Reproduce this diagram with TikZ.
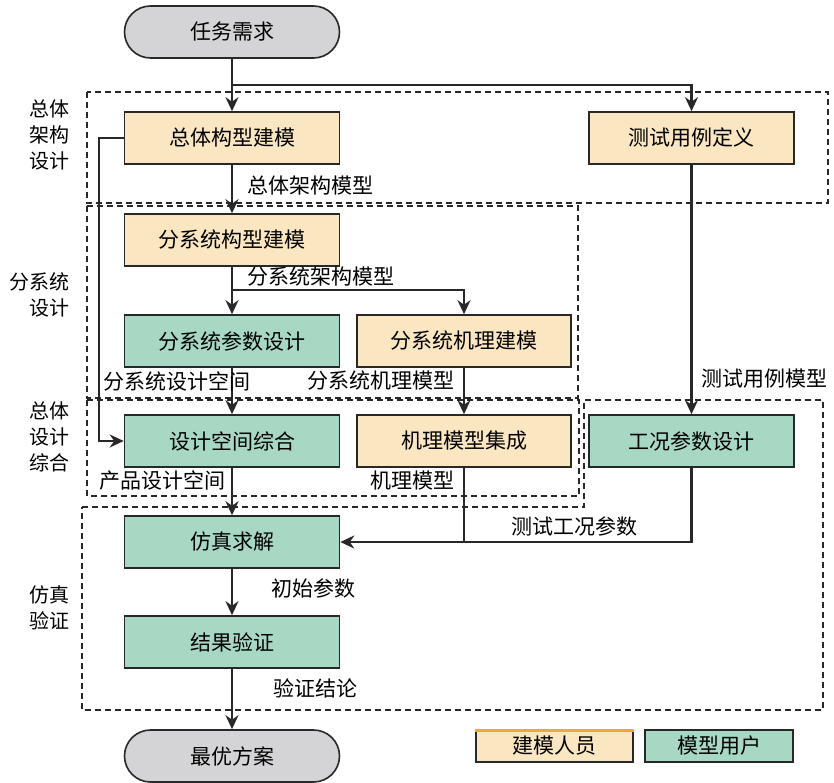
\documentclass[tikz,border=0pt]{standalone}
\usepackage{fontspec}
\setmainfont{Noto Sans CJK SC}
\usetikzlibrary{arrows.meta,calc}
\definecolor{jmfill}{RGB}{250,230,192}
\definecolor{yhfill}{RGB}{167,216,196}
\definecolor{termfill}{RGB}{212,212,214}
\definecolor{edge}{RGB}{40,40,40}
\definecolor{legendtop}{RGB}{240,168,60}

\begin{document}
\begin{tikzpicture}[x=1pt,y=-1pt,line width=2.4pt,draw=edge,
           every node/.style={inner sep=2pt,font=\fontsize{21}{26}\selectfont},
           >={Stealth[length=14pt,width=13pt]},
           jm/.style={draw=edge,line width=1.6pt,fill=jmfill,minimum width=215,minimum height=52},
           yh/.style={draw=edge,line width=1.6pt,fill=yhfill,minimum width=215,minimum height=52},
           term/.style={draw=edge,line width=1.6pt,fill=termfill,rounded corners=26pt,minimum width=215,minimum height=52},
           lab/.style={font=\fontsize{21}{24}\selectfont},
           side/.style={font=\fontsize{20}{26}\selectfont,align=right,anchor=east},
           dashbox/.style={line width=1.2pt,dash pattern=on 6pt off 4pt}]
  \useasboundingbox (0,0) rectangle (834,783);
  \draw[dashbox](87,92)rectangle(828,203);
  \draw[dashbox](87,206)rectangle(578,398);
  \draw[dashbox](87,400)rectangle(579,496);
  \draw[dashbox](82,507)--(584,507)--(584,400)--(823,400)--(823,710)--(82,710)--cycle;
  \node[side](s1)at(73,135){总体\\架构\\设计};
  \node[side](s2)at(73,295){分系统\\设计};
  \node[side](s3)at(73,437){总体\\设计\\综合};
  \node[side](s4)at(73,608){仿真\\验证};
  \node[term](rw)at(232,32){任务需求};
  \node[jm](ztgx)at(232,138){总体构型建模};
  \node[jm,minimum width=205](csyl)at(691.5,138){测试用例定义};
  \node[jm](fxgx)at(232,240){分系统构型建模};
  \node[yh](fxcs)at(232,341){分系统参数设计};
  \node[jm,minimum width=214](fxjl)at(464,341){分系统机理建模};
  \node[yh](sjzh)at(232,441){设计空间综合};
  \node[jm,minimum width=214](jljc)at(464,441){机理模型集成};
  \node[yh,minimum width=205](gkcs)at(691.5,441){工况参数设计};
  \node[yh](fzqj)at(232,542){仿真求解};
  \node[yh](jgyz)at(232,642){结果验证};
  \node[term](zyfa)at(232,756){最优方案};
  \coordinate(b1)at(232,85);
  \coordinate(b2)at(232,290);
  \draw[->](rw)--(ztgx);
  \draw[->](b1)-|(csyl);
  \draw[->](ztgx)--(fxgx);
  \draw[->](fxgx)--(fxcs);
  \draw[->](b2)-|(fxjl);
  \draw[->](ztgx.west)-|([xshift=-25pt]sjzh.west)--(sjzh.west);
  \draw[->](fxcs)--(sjzh);
  \draw[->](fxjl)--(jljc);
  \draw[->](csyl)--(gkcs);
  \draw[->](sjzh)--(fzqj);
  \draw(jljc)--(jljc|-fzqj);
  \draw[->](gkcs)|-(fzqj);
  \draw[->](fzqj)--(jgyz);
  \draw[->](jgyz)--(zyfa);
  \node[lab,anchor=west](m1)at(244,186){总体架构模型};
  \node[lab,anchor=west](m2)at(244,277){分系统架构模型};
  \node[lab,anchor=east](m3)at(254,381){分系统设计空间};
  \node[lab,anchor=east](m4)at(458,381){分系统机理模型};
  \node[lab,anchor=west](m5)at(698,379){测试用例模型};
  \node[lab,anchor=west](m6)at(96,481){产品设计空间};
  \node[lab,anchor=east](m7)at(458,481){机理模型};
  \node[lab](m8)at(574,526){测试工况参数};
  \node[lab,anchor=west](m9)at(268,588){初始参数};
  \node[lab,anchor=west](m10)at(270,688){验证结论};
  \node[jm,minimum width=157,minimum height=32](lg1)at(554.5,746){建模人员};
  \draw[legendtop,line width=3pt]([yshift=-1.5pt]lg1.north west)--([yshift=-1.5pt]lg1.north east);
  \node[yh,minimum width=148,minimum height=32](lg2)at(719,746){模型用户};
\end{tikzpicture}
\end{document}
